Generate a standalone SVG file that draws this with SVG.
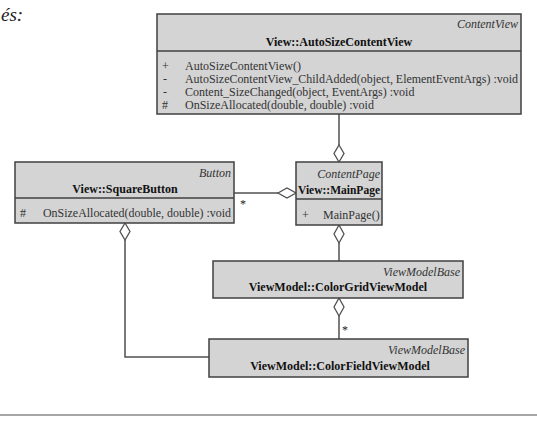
<svg xmlns="http://www.w3.org/2000/svg" width="537" height="423" viewBox="0 0 537 423">
<style>
.box{fill:#d4d4d4;stroke:#404040;stroke-width:1.5}
.sep{stroke:#404040;stroke-width:1.5}
.ln{fill:none;stroke:#505050;stroke-width:1.5}
.dia{fill:#ffffff;stroke:#505050;stroke-width:1.3}
.st{font-family:"Liberation Serif","Times New Roman",serif;font-style:italic;font-size:12px;fill:#333;text-anchor:end}
.ti{font-family:"Liberation Serif","Times New Roman",serif;font-weight:bold;font-size:12px;fill:#111;text-anchor:middle}
.m{font-family:"Liberation Serif","Times New Roman",serif;font-size:12px;fill:#333}
.mult{font-family:"Liberation Serif","Times New Roman",serif;font-size:12px;fill:#222}
</style>
<rect width="537" height="423" fill="#ffffff"/>
<text x="1" y="21" font-family="Liberation Serif,Times New Roman,serif" font-style="italic" font-size="19" fill="#222">és:</text>
<g id="connectors">
<path class="ln" d="M339 114 V145"/>
<polygon class="dia" points="339,145 344,153.5 339,162 334,153.5"/>
<path class="ln" d="M339 243 V261"/>
<polygon class="dia" points="339,225 344,234 339,243 334,234"/>
<path class="ln" d="M234 193 H278"/>
<polygon class="dia" points="278,193 287,188 296,193 287,198"/>
<text class="mult" x="240" y="208">*</text>
<path class="ln" d="M339 316 V339"/>
<polygon class="dia" points="339,298 344,307 339,316 334,307"/>
<text class="mult" x="342" y="334">*</text>
<path class="ln" d="M125 240 V357 H209"/>
<polygon class="dia" points="125,223 130,231.5 125,240 120,231.5"/>
</g>
<g id="AutoSizeContentView">
<rect class="box" x="157" y="14" width="364" height="100"/>
<line class="sep" x1="157" y1="51" x2="521" y2="51"/>
<text class="st" x="518" y="28">ContentView</text>
<text class="ti" x="339" y="46">View::AutoSizeContentView</text>
<text class="m" x="162" y="70">+</text>
<text class="m" x="185" y="70">AutoSizeContentView()</text>
<text class="m" x="163" y="83">-</text>
<text class="m" x="185" y="83" textLength="333" lengthAdjust="spacingAndGlyphs">AutoSizeContentView_ChildAdded(object, ElementEventArgs) :void</text>
<text class="m" x="163" y="96">-</text>
<text class="m" x="185" y="96">Content_SizeChanged(object, EventArgs) :void</text>
<text class="m" x="162" y="109">#</text>
<text class="m" x="185" y="109">OnSizeAllocated(double, double) :void</text>
</g>
<g id="SquareButton">
<rect class="box" x="15" y="162" width="219" height="61"/>
<line class="sep" x1="15" y1="198" x2="234" y2="198"/>
<text class="st" x="231" y="177">Button</text>
<text class="ti" x="125" y="193">View::SquareButton</text>
<text class="m" x="20" y="217">#</text>
<text class="m" x="43" y="217" textLength="188" lengthAdjust="spacingAndGlyphs">OnSizeAllocated(double, double) :void</text>
</g>
<g id="MainPage">
<rect class="box" x="296" y="162" width="86" height="63"/>
<line class="sep" x1="296" y1="199" x2="382" y2="199"/>
<text class="st" x="380" y="178">ContentPage</text>
<text class="ti" x="339" y="194" textLength="82" lengthAdjust="spacingAndGlyphs">View::MainPage</text>
<text class="m" x="302" y="219">+</text>
<text class="m" x="323" y="219">MainPage()</text>
</g>
<g id="ColorGridViewModel">
<rect class="box" x="213" y="261" width="250" height="37"/>
<text class="st" x="460" y="276">ViewModelBase</text>
<text class="ti" x="338" y="291">ViewModel::ColorGridViewModel</text>
</g>
<g id="ColorFieldViewModel">
<rect class="box" x="209" y="339" width="259" height="38"/>
<text class="st" x="465" y="354">ViewModelBase</text>
<text class="ti" x="340" y="370">ViewModel::ColorFieldViewModel</text>
</g>
<line x1="0" y1="415" x2="537" y2="415" stroke="#888" stroke-width="1.5"/>
</svg>
